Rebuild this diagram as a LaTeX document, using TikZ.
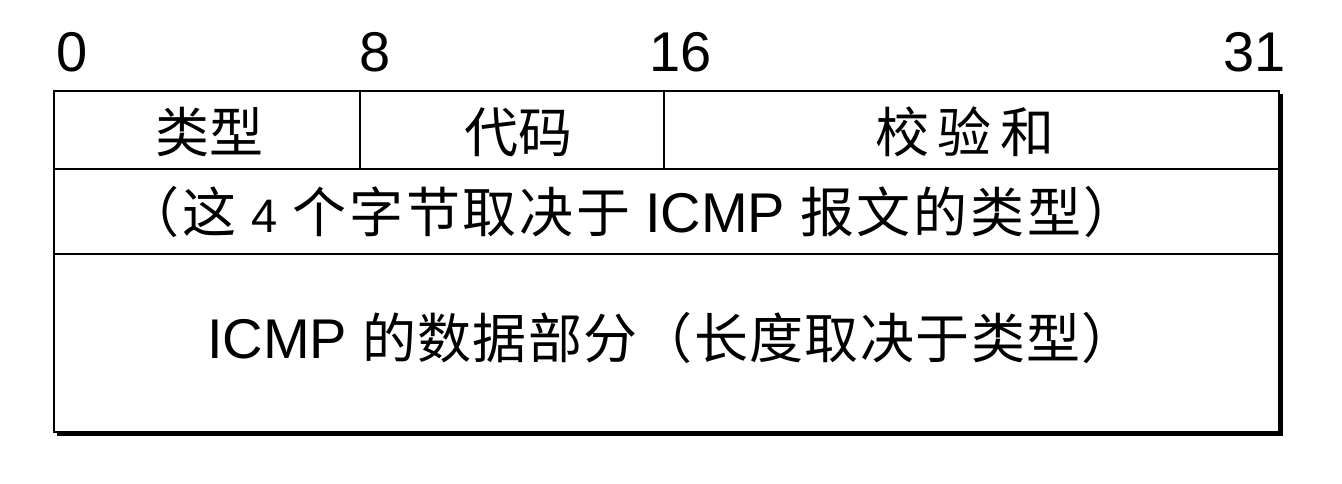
\documentclass[tikz,border=0pt]{standalone}
\usepackage{fontspec}
\setmainfont{Liberation Sans}
\newfontfamily\cjk{Noto Sans CJK SC}
\newfontfamily\cjkwide{Noto Sans CJK SC}[LetterSpace=5]
\newfontfamily\cjkmid{Noto Sans CJK SC}[LetterSpace=2.5]
\begin{document}
\begin{tikzpicture}[x=1pt,y=-1pt,line width=2.4pt,
  bitlabel/.style={font=\fontsize{56}{60}\selectfont,inner sep=0pt},
  celltext/.style={font=\fontsize{54}{60}\selectfont,inner sep=0pt},
  shadowline/.style={line width=2.6pt}]
\useasboundingbox (0,0) rectangle (1342,484);
% frame corners and dividers
\coordinate (tl) at (54,91);
\coordinate (br) at (1279,432);
\coordinate (r1l) at (54,169);
\coordinate (r1r) at (1279,169);
\coordinate (r2l) at (54,254);
\coordinate (r2r) at (1279,254);
\coordinate (d1t) at (360,91);
\coordinate (d1b) at (360,169);
\coordinate (d2t) at (664,91);
\coordinate (d2b) at (664,169);
\coordinate (s1) at (1281.5,94);
\coordinate (s2) at (1281.5,434.5);
\coordinate (s3) at (57,434.5);
\draw (tl) rectangle (br);
\draw (r1l) -- (r1r);
\draw (r2l) -- (r2r);
\draw (d1t) -- (d1b);
\draw (d2t) -- (d2b);
\draw[shadowline] (s1) -- (s2) -- (s3);
% bit labels
\node[bitlabel,anchor=base west] (b0) at (55,72) {0};
\node[bitlabel,anchor=base west] (b8) at (358,72) {8};
\node[bitlabel,anchor=base west] (b16) at (648,72) {16};
\node[bitlabel,anchor=base east] (b31) at (1287,72) {31};
% row 1
\node[celltext,anchor=base] (type) at (209,153) {\cjk 类型};
\node[celltext,anchor=base] (code) at (518,153) {\cjk 代码};
\node[celltext,anchor=base] (cks) at (965,153) {\cjk 校\,验\,和};
% row 2
\node[celltext,anchor=base east] (rest) at (1139,232)
  {{\cjkwide （这} {\fontsize{47}{50}\selectfont 4} {\cjkwide 个字节取决于} {\fontsize{56}{60}\selectfont ICMP} {\cjkwide 报文的类型）}};
% row 3
\node[celltext,anchor=base east] (data) at (1137,358)
  {{\fontsize{56}{60}\selectfont ICMP} {\cjkmid 的数据部分（长度取决于类型）}};
\end{tikzpicture}
\end{document}
